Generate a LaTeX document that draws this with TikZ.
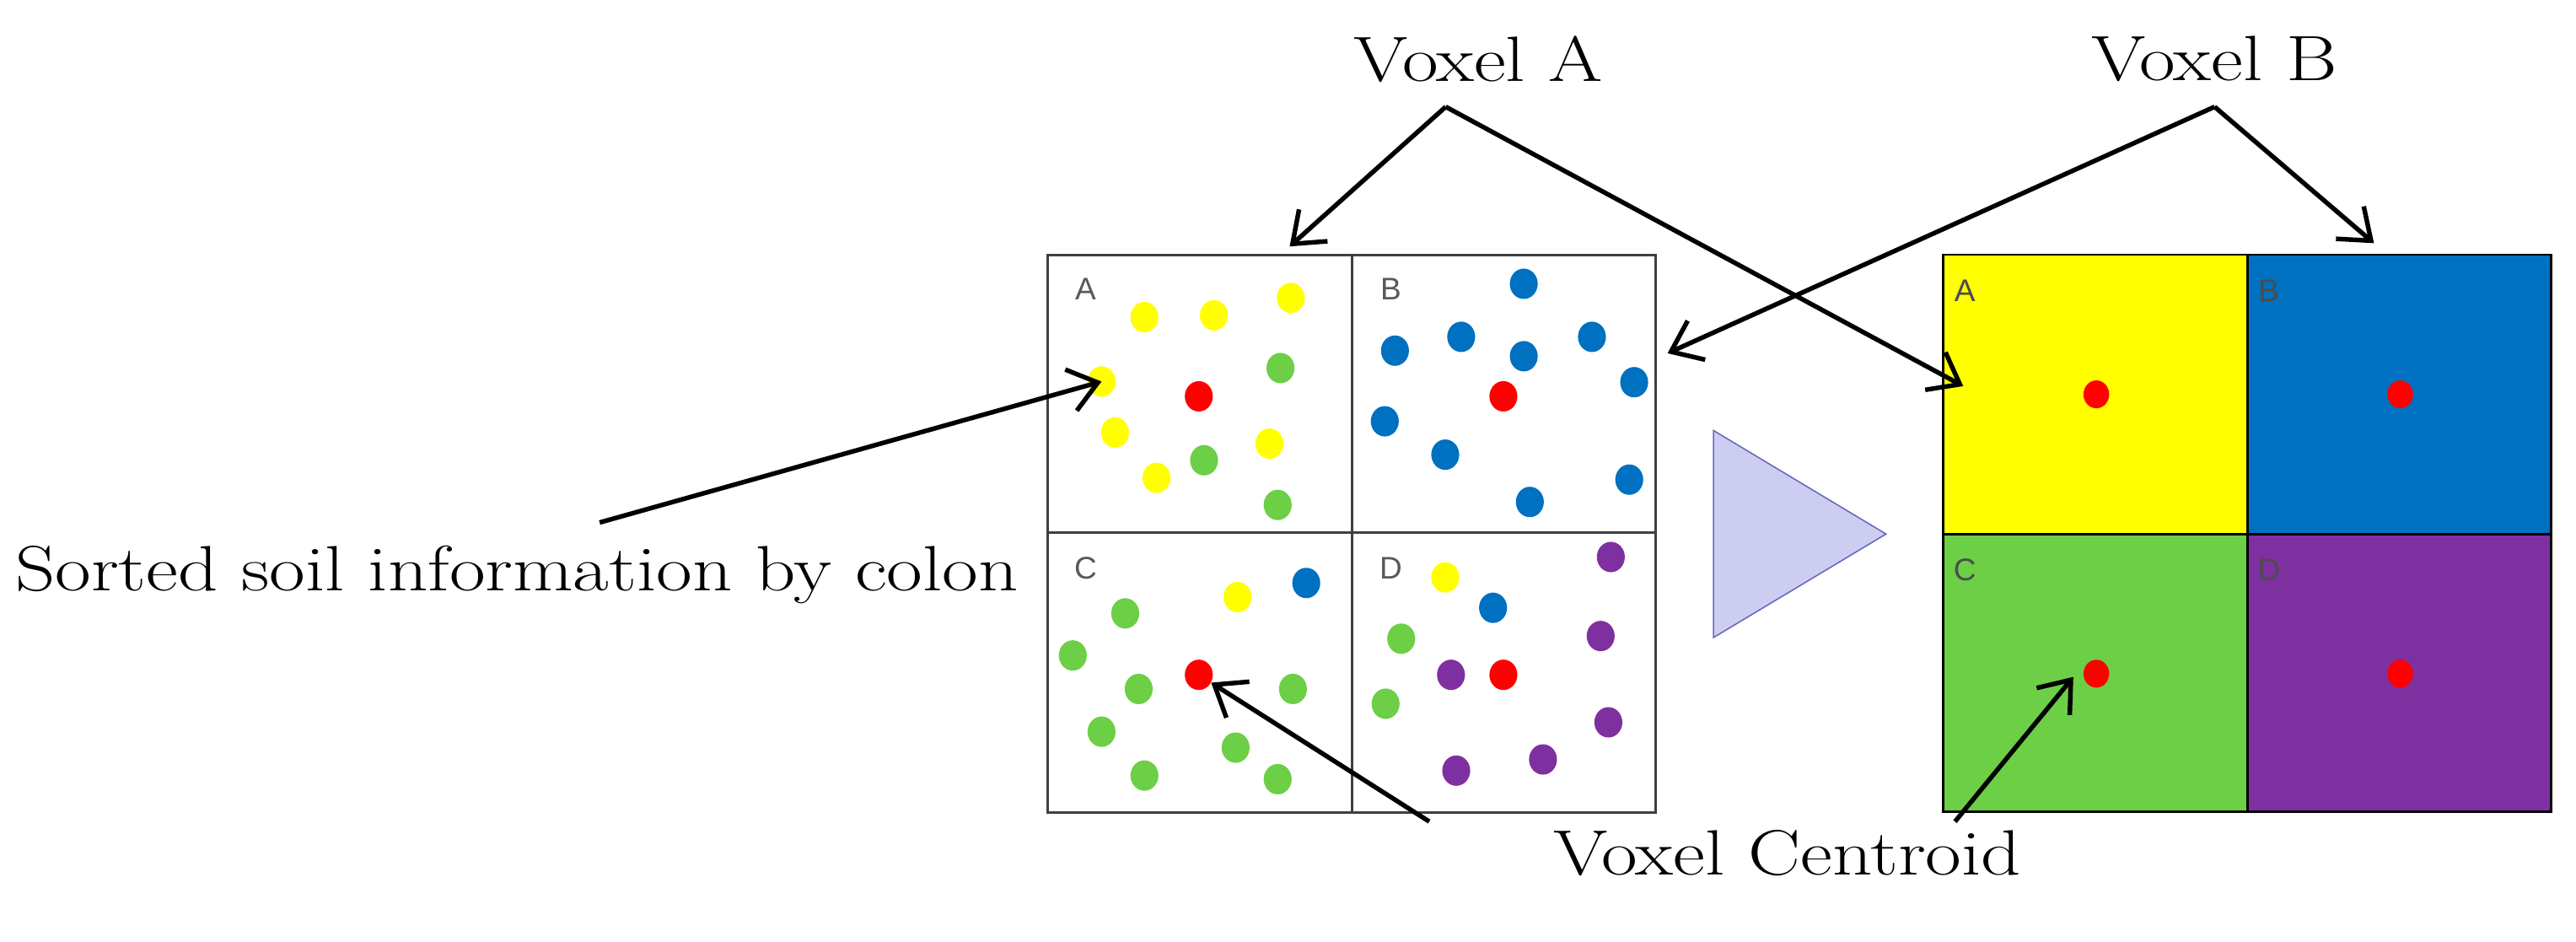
\documentclass[tikz,border=0pt]{standalone}
\usepackage{fontspec}
\newfontfamily\lab{Liberation Sans}
\usetikzlibrary{arrows.meta}
\definecolor{yel}{HTML}{FFFF00}
\definecolor{blu}{HTML}{0070C0}
\definecolor{grn}{HTML}{6CCF45}
\definecolor{pur}{HTML}{7F30A0}
\definecolor{rd}{HTML}{FF0000}
\definecolor{tri}{HTML}{CDCDF2}
\begin{document}
\begin{tikzpicture}[x=1pt,y=-1pt,
  dot/.style={fill=#1,draw=none,minimum width=17pt,minimum height=18.5pt,inner sep=0pt,shape=circle,xscale=0.92},
  cell/.style={draw=black!75,line width=1.5pt},
  glab/.style={font=\lab\fontsize{19}{19}\selectfont,text=black!65,anchor=center},
  big/.style={font=\fontsize{39}{42}\selectfont,xscale=1.22},
  arr/.style={line width=2.8pt,-{Straight Barb[length=17pt,width=26pt,line width=2.8pt]}}]
\useasboundingbox (0,0) rectangle (1568,573);
% left grid
\draw[cell] (637.6,155.2) rectangle (1008,494.6);
\draw[cell] (823,155.2) -- (823,494.6);
\draw[cell] (637.6,324) -- (1008,324);
\node[glab] (la) at (660.8,176) {A};
\node[glab] (lb) at (846.6,176) {B};
\node[glab] (lc) at (660.8,345.6) {C};
\node[glab] (ld) at (846.6,345.6) {D};
\foreach \x/\y in {696.6/193,738.9/191.9,785.7/181.3,670.5/232.2,678.7/263.2,704/290.8,772.7/270,753.3/363.4,879.7/351.4}
  \node[dot=yel] at (\x,\y) {};
\foreach \x/\y in {779.4/224,732.9/280.1,777.7/307.3,684.9/373.3,653/398.9,693.1/419.3,670.5/445.3,696.6/472,752.1/455,777.7/474.2,787/419.3,852.9/388.7,843.4/428.3}
  \node[dot=grn] at (\x,\y) {};
\foreach \x/\y in {927.5/172.7,849.1/213.4,889.4/205,927.5/216.8,969/205,994.7/232.6,842.9/256.4,879.7/276.7,931.2/305.5,991.7/291.9,795.1/354.8,908.8/369.9}
  \node[dot=blu] at (\x,\y) {};
\foreach \x/\y in {980.5/339,974.3/387.1,883.2/410.7,979/439.6,939.2/462.2,886.4/469}
  \node[dot=pur] at (\x,\y) {};
\node[dot=rd] (ra) at (729.7,241.2) {};
\node[dot=rd] (rb) at (915.1,241.2) {};
\node[dot=rd] (rc) at (729.7,410.7) {};
\node[dot=rd] (rd) at (915.1,410.7) {};
\coordinate (ya) at (670.5,232.2);
% triangle
\draw[draw=black!45!blue!60,fill=tri,line width=0.8pt] (1043,262) -- (1043,388) -- (1148,325) -- cycle;
% right grid
\fill[yel] (1183,155) rectangle (1368,325);
\fill[blu] (1368,155) rectangle (1553,325);
\fill[grn] (1183,325) rectangle (1368,494);
\fill[pur] (1368,325) rectangle (1553,494);
\draw[cell,black] (1183,155) rectangle (1553,494);
\draw[cell,black] (1368,155) -- (1368,494) (1183,325) -- (1553,325);
\node[glab,text=black!70] at (1196,177) {A};
\node[glab,text=black!70] at (1381,177) {B};
\node[glab,text=black!70] at (1196,347) {C};
\node[glab,text=black!70] at (1381,347) {D};
\foreach \x/\y in {1276/240,1461/240,1461/410} \node[dot=rd,minimum width=16pt,minimum height=17pt] at (\x,\y) {};
\node[dot=rd,minimum width=16pt,minimum height=17pt] (rr) at (1276,410) {};
% labels
\node[big] (va) at (900,36) {Voxel A};
\node[big] (vb) at (1348,36) {Voxel B};
\node[big,anchor=west] (ss) at (5,350) {Sorted soil information by colon};
\node[big] (vc) at (1088,519) {Voxel Centroid};
\coordinate (pa) at (880,65);
\coordinate (pb) at (1348,65);
\coordinate (ps) at (365,318);
\coordinate (pc1) at (870,500);
\coordinate (pc2) at (1190,500);
\coordinate (ta1) at (785,150);
\coordinate (ta2) at (1195,235);
\coordinate (tb1) at (1015,215);
\coordinate (tb2) at (1445,148);
\coordinate (tr) at (1262,412);
\draw[arr] (pa) -- (ta1);
\draw[arr] (pa) -- (ta2);
\draw[arr] (pb) -- (tb1);
\draw[arr] (pb) -- (tb2);
\draw[arr] (ps) -- (ya);
\draw[arr] (pc1) -- (rc);
\draw[arr] (pc2) -- (tr);
\end{tikzpicture}
\end{document}
